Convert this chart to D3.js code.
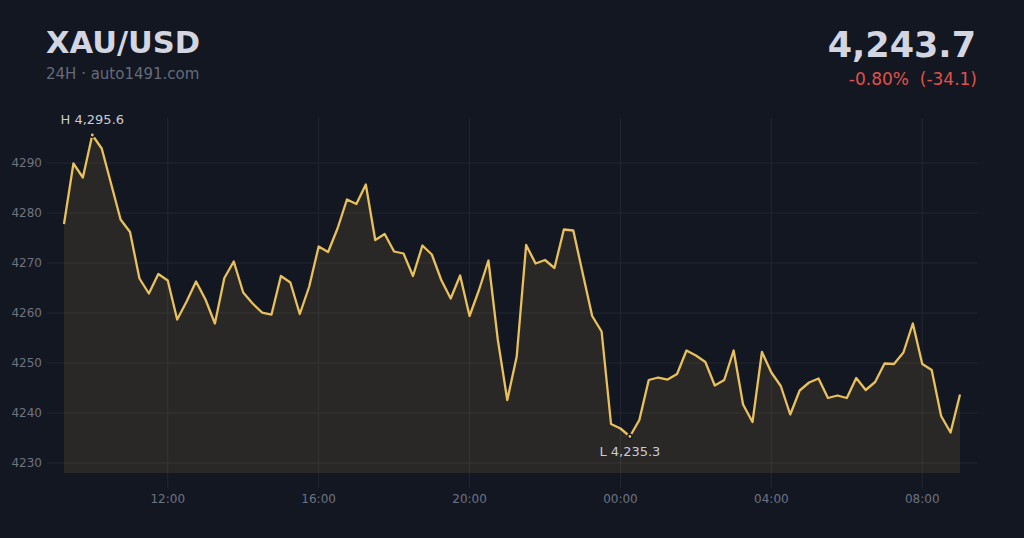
<!DOCTYPE html>
<html>
<head>
<meta charset="utf-8">
<script src="https://cdn.jsdelivr.net/npm/d3@7"></script>
<style>
  html, body { margin: 0; padding: 0; background: #131722; }
  body { width: 1024px; height: 538px; overflow: hidden; font-family: "DejaVu Sans", sans-serif; }
</style>
</head>
<body>
<div id="chart"></div>
<script>
// 15-minute closes, 09:15 -> 09:00 next day
const symbol = "XAU/USD";
const subtitle = "24H \u00b7 auto1491.com";
const startTime = new Date(2025, 0, 14, 9, 15);
const stepMinutes = 15;
const prices = [
    4277.8, 4289.9, 4287.1, 4295.6, 4292.9, 4285.8, 4278.7, 4276.2, 4266.9, 4263.9,
    4267.8, 4266.5, 4258.7, 4262.3, 4266.3, 4262.7, 4257.9, 4267.0, 4270.3, 4264.1,
    4261.9, 4260.1, 4259.7, 4267.4, 4266.1, 4259.8, 4265.3, 4273.3, 4272.2, 4276.9,
    4282.7, 4281.8, 4285.7, 4274.6, 4275.8, 4272.3, 4271.9, 4267.4, 4273.5, 4271.7,
    4266.6, 4262.9, 4267.5, 4259.4, 4264.6, 4270.5, 4254.6, 4242.6, 4251.3, 4273.6,
    4269.9, 4270.6, 4269.0, 4276.7, 4276.5, 4267.9, 4259.4, 4256.3, 4237.8, 4236.9,
    4235.3, 4238.6, 4246.6, 4247.1, 4246.7, 4247.8, 4252.5, 4251.5, 4250.2, 4245.5,
    4246.6, 4252.5, 4241.7, 4238.2, 4252.2, 4248.1, 4245.4, 4239.7, 4244.5, 4246.1,
    4246.9, 4243.0, 4243.5, 4243.0, 4247.0, 4244.6, 4246.2, 4249.9, 4249.8, 4252.1,
    4257.9, 4249.8, 4248.6, 4239.4, 4236.1, 4243.7
];
const yDomain = [4228, 4299];

const width = 1024;
const height = 538;
const lineColor = "#e8c05c";
const gridColor = "#222631";
const axisTextColor = "#6e7380";

const data = prices.map((p, i) => ({
    time: new Date(startTime.getTime() + i * stepMinutes * 60000),
    value: p
}));

const svg = d3.select("#chart")
    .append("svg")
    .attr("width", width)
    .attr("height", height);

svg.append("rect")
    .attr("width", width)
    .attr("height", height)
    .attr("fill", "#131722");

const x = d3.scaleTime()
    .domain(d3.extent(data, d => d.time))
    .range([64, 960]);

const y = d3.scaleLinear()
    .domain(yDomain)
    .range([473, 118]);

// grid
const yTicks = y.ticks(7);
svg.append("g")
    .selectAll("line")
    .data(yTicks)
    .enter()
    .append("line")
    .attr("x1", 47)
    .attr("x2", 977)
    .attr("y1", d => y(d))
    .attr("y2", d => y(d))
    .attr("stroke", gridColor)
    .attr("stroke-width", 1);

const xTicks = x.ticks(d3.timeHour.every(4));
svg.append("g")
    .selectAll("line")
    .data(xTicks)
    .enter()
    .append("line")
    .attr("x1", d => x(d))
    .attr("x2", d => x(d))
    .attr("y1", 118)
    .attr("y2", 488)
    .attr("stroke", gridColor)
    .attr("stroke-width", 1);

// area + line
const area = d3.area()
    .x(d => x(d.time))
    .y0(y(yDomain[0]))
    .y1(d => y(d.value));

const line = d3.line()
    .x(d => x(d.time))
    .y(d => y(d.value));

svg.append("path")
    .datum(data)
    .attr("d", area)
    .attr("fill", lineColor)
    .attr("fill-opacity", 0.1);

svg.append("path")
    .datum(data)
    .attr("d", line)
    .attr("fill", "none")
    .attr("stroke", lineColor)
    .attr("stroke-width", 2.3)
    .attr("stroke-linejoin", "round");

// axis labels
svg.append("g")
    .selectAll("text")
    .data(yTicks)
    .enter()
    .append("text")
    .attr("x", 42)
    .attr("y", d => y(d) + 4)
    .attr("text-anchor", "end")
    .attr("fill", axisTextColor)
    .style("font-size", "12px")
    .text(d => d);

const fmt = d3.timeFormat("%H:%M");
svg.append("g")
    .selectAll("text")
    .data(xTicks)
    .enter()
    .append("text")
    .attr("x", d => x(d))
    .attr("y", 503)
    .attr("text-anchor", "middle")
    .attr("fill", axisTextColor)
    .style("font-size", "12px")
    .text(d => fmt(d));

// high / low markers
const hi = data.reduce((a, b) => (b.value > a.value ? b : a));
const lo = data.reduce((a, b) => (b.value < a.value ? b : a));
const num = d3.format(",.1f");

[[hi, "H", -11], [lo, "L", 19]].forEach(([d, tag, dy]) => {
    svg.append("circle")
        .attr("cx", x(d.time))
        .attr("cy", y(d.value))
        .attr("r", 2.2)
        .attr("fill", lineColor)
        .attr("stroke", "#131722")
        .attr("stroke-width", 1.5);
    svg.append("text")
        .attr("x", x(d.time))
        .attr("y", y(d.value) + dy)
        .attr("text-anchor", "middle")
        .attr("fill", "#c9ccd5")
        .style("font-size", "13px")
        .text(`${tag} ${num(d.value)}`);
});

// header
svg.append("text")
    .attr("x", 46)
    .attr("y", 53)
    .attr("fill", "#d3d6e0")
    .style("font-size", "30.5px")
    .style("font-weight", "bold")
    .text(symbol);

svg.append("text")
    .attr("x", 46)
    .attr("y", 79)
    .attr("fill", "#666b78")
    .style("font-size", "15px")
    .text(subtitle);

const last = prices[prices.length - 1];
const first = prices[0];
const change = last - first;
const pct = change / first * 100;

svg.append("text")
    .attr("x", 976)
    .attr("y", 57)
    .attr("text-anchor", "end")
    .attr("fill", "#d3d6e0")
    .style("font-size", "35px")
    .style("font-weight", "bold")
    .text(num(last));

svg.append("text")
    .attr("x", 977)
    .attr("y", 85)
    .attr("text-anchor", "end")
    .attr("fill", "#e0514b")
    .style("font-size", "17px")
    .text(`${pct.toFixed(2)}%\u00a0 (${change.toFixed(1)})`);
</script>
</body>
</html>
